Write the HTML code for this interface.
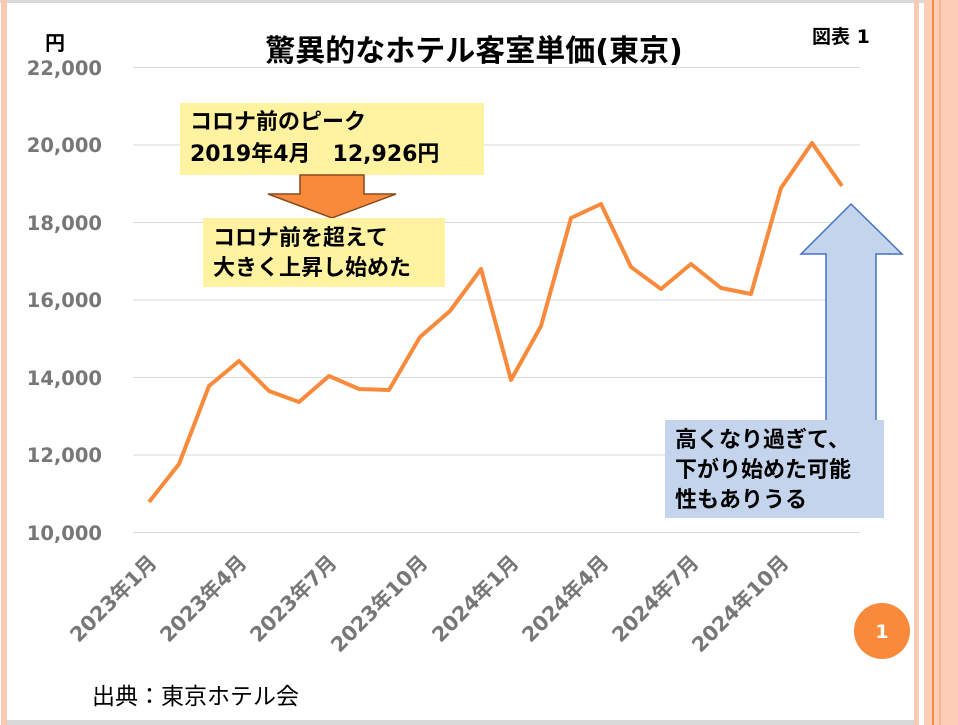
<!DOCTYPE html>
<html><head><meta charset="utf-8"><style>
body{margin:0;width:958px;height:725px;overflow:hidden;background:#fff;position:relative;font-family:"DejaVu Sans","Noto Sans CJK JP",sans-serif}
.a{position:absolute}
</style></head><body>
<div class="a" style="left:0;top:0;width:958px;height:3px;background:#d9d9d9"></div>
<div class="a" style="left:1px;top:0;width:6px;height:725px;background:#fcc9b4"></div>
<div class="a" style="left:914px;top:0;width:5px;height:725px;background:#fcc9b4"></div>
<div class="a" style="left:924px;top:0;width:34px;height:725px;background:#fdcdb8"></div>
<div class="a" style="left:932px;top:0;width:2px;height:725px;background:#f98a3c"></div>
<div class="a" style="left:939px;top:0;width:2px;height:725px;background:#f9b494"></div>
<div class="a" style="left:7px;top:720px;width:907px;height:5px;background:#d9d9d9"></div>
<svg class="a" style="left:0;top:0" width="958" height="725" font-family="DejaVu Sans,Noto Sans CJK JP,sans-serif">
<g stroke="#d9d9d9" stroke-width="1">
<line x1="133" x2="860" y1="67.5" y2="67.5"/><line x1="133" x2="860" y1="145" y2="145"/><line x1="133" x2="860" y1="222.5" y2="222.5"/><line x1="133" x2="860" y1="300" y2="300"/><line x1="133" x2="860" y1="377.5" y2="377.5"/><line x1="133" x2="860" y1="455" y2="455"/><line x1="133" x2="860" y1="532.5" y2="532.5"/>
</g>
<g font-size="19.5" font-weight="bold" fill="#777" text-anchor="end">
<text x="102" y="75">22,000</text><text x="102" y="152">20,000</text><text x="102" y="230">18,000</text><text x="102" y="307">16,000</text><text x="102" y="385">14,000</text><text x="102" y="462">12,000</text><text x="102" y="540">10,000</text>
</g>
<text x="45" y="50" font-size="20" font-weight="bold">円</text>
<text x="474" y="61" font-size="30" font-weight="bold" text-anchor="middle">驚異的なホテル客室単価(東京)</text>
<text x="812" y="43" font-size="19" font-weight="bold">図表 1</text>
<polyline fill="none" stroke="#f98a3c" stroke-width="4" stroke-linejoin="round" points="149,502 179,464 209,386 239,361 269,391 299,402 329,376 359,389 389,390 420,337 450,311 481,269 511,380 541,326 571,218 601,204 631,267 661,289 691,264 721,288 751,294 781,188 812,143 842,186"/>
<g font-size="20.5" font-weight="bold" fill="#777" text-anchor="end">
<text transform="translate(158,564) rotate(-45)">2023年1月</text>
<text transform="translate(248,564) rotate(-45)">2023年4月</text>
<text transform="translate(338,564) rotate(-45)">2023年7月</text>
<text transform="translate(429,564) rotate(-45)">2023年10月</text>
<text transform="translate(520,564) rotate(-45)">2024年1月</text>
<text transform="translate(610,564) rotate(-45)">2024年4月</text>
<text transform="translate(700,564) rotate(-45)">2024年7月</text>
<text transform="translate(790,564) rotate(-45)">2024年10月</text>
</g>
<rect x="180" y="103" width="304" height="72" fill="#fff2a0"/>
<text x="190" y="129" font-size="22" font-weight="bold">コロナ前のピーク</text>
<text x="190" y="161" font-size="22" font-weight="bold">2019年4月　12,926円</text>
<polygon points="300,175 364,175 364,194 396,194 332,218 268,194 300,194" fill="#f98a3c" stroke="#8a4a1e" stroke-width="1.5"/>
<rect x="203" y="218" width="242" height="69" fill="#fff2a0"/>
<text x="213" y="245" font-size="22" font-weight="bold">コロナ前を超えて</text>
<text x="213" y="275" font-size="22" font-weight="bold">大きく上昇し始めた</text>
<polygon points="851,204 902,254 876,254 876,421 826,421 826,254 801,254" fill="#c5d4ed" stroke="#4472c4" stroke-width="1.5"/>
<rect x="665" y="420" width="219" height="98" fill="#c5d4ed"/>
<text x="675" y="447" font-size="22" font-weight="bold">高くなり過ぎて、</text>
<text x="675" y="477" font-size="22" font-weight="bold">下がり始めた可能</text>
<text x="675" y="507" font-size="22" font-weight="bold">性もありうる</text>
<circle cx="882" cy="631" r="28" fill="#f98a3c"/>
<text x="882" y="638" font-size="19" font-weight="bold" fill="#fff" text-anchor="middle">1</text>
<text x="92" y="704" font-size="23">出典：東京ホテル会</text>
</svg>
</body></html>
